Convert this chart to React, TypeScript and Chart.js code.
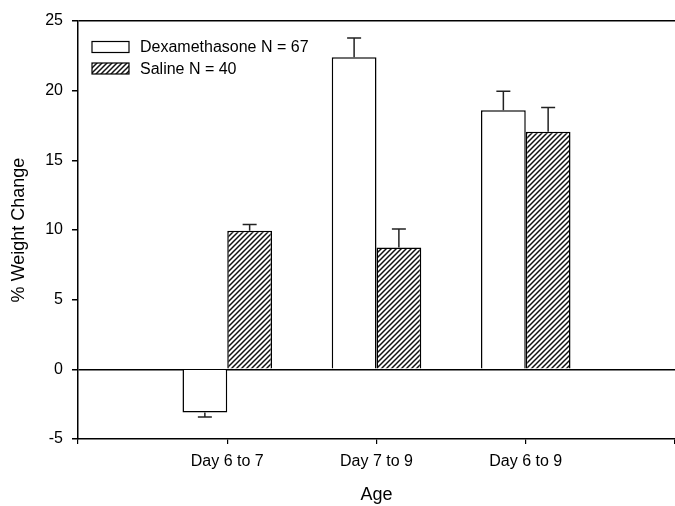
import React, { useEffect, useRef } from 'react';
import { Chart, registerables } from 'chart.js';

Chart.register(...registerables);

// ---- Data ----
const categories = ['', 'Day 6 to 7', 'Day 7 to 9', 'Day 6 to 9', ''];
const dexLabel = 'Dexamethasone N = 67';
const salineLabel = 'Saline N = 40';
const dexValues = [null, -3.1, 22.4, 18.6, null];
const dexErrors = [null, 0.32, 1.38, 1.36, null];
const salineValues = [null, 9.95, 8.75, 17.05, null];
const salineErrors = [null, 0.45, 1.33, 1.75, null];
const yMin = -5;
const yMax = 25;
const yStep = 5;
const yTitle = '% Weight Change';
const xTitle = 'Age';

const FONT = '"Liberation Sans", Arial, Helvetica, sans-serif';

function makeHatch(): CanvasPattern | string {
  const s = 5;
  const c = document.createElement('canvas');
  c.width = s;
  c.height = s;
  const g = c.getContext('2d');
  if (!g) return '#888';
  g.fillStyle = '#fff';
  g.fillRect(0, 0, s, s);
  g.strokeStyle = '#111';
  g.lineWidth = 1.5;
  g.beginPath();
  g.moveTo(0, s);
  g.lineTo(s, 0);
  g.moveTo(-1, 1);
  g.lineTo(1, -1);
  g.moveTo(s - 1, s + 1);
  g.lineTo(s + 1, s - 1);
  g.stroke();
  const p = g.createPattern(c, 'repeat');
  return p || '#888';
}

const errorBarPlugin = {
  id: 'errorBars',
  afterDatasetsDraw(chart: any) {
    const ctx = chart.ctx;
    const yScale = chart.scales.y;
    const errs = [dexErrors, salineErrors];
    chart.data.datasets.forEach((ds: any, di: number) => {
      const meta = chart.getDatasetMeta(di);
      meta.data.forEach((el: any, i: number) => {
        const v = ds.data[i];
        const e = errs[di][i];
        if (v == null || e == null) return;
        const sign = v >= 0 ? 1 : -1;
        const yEnd = yScale.getPixelForValue(v + sign * e);
        const x = el.x;
        ctx.save();
        ctx.strokeStyle = '#222';
        ctx.lineWidth = 1.5;
        ctx.beginPath();
        ctx.moveTo(x, el.y);
        ctx.lineTo(x, yEnd);
        ctx.moveTo(x - 7, yEnd);
        ctx.lineTo(x + 7, yEnd);
        ctx.stroke();
        ctx.restore();
      });
    });
  },
};

const legendPlugin = {
  id: 'customLegend',
  afterDraw(chart: any) {
    const ctx = chart.ctx;
    const items = chart.data.datasets;
    const x0 = 92;
    const rows = [47, 68.5];
    ctx.save();
    items.forEach((ds: any, i: number) => {
      const cy = rows[i];
      ctx.fillStyle = ds.backgroundColor;
      ctx.fillRect(x0, cy - 5.5, 37, 11);
      ctx.strokeStyle = '#000';
      ctx.lineWidth = 1.2;
      ctx.strokeRect(x0, cy - 5.5, 37, 11);
      ctx.fillStyle = '#000';
      ctx.font = `16px ${FONT}`;
      ctx.textBaseline = 'middle';
      ctx.textAlign = 'left';
      ctx.fillText(ds.label, 140, cy + 1);
    });
    ctx.restore();
  },
};

export default function App() {
  const ref = useRef<HTMLCanvasElement | null>(null);

  useEffect(() => {
    if (!ref.current) return;
    const hatch = makeHatch();
    const chart = new Chart(ref.current, {
      type: 'bar',
      data: {
        labels: categories,
        datasets: [
          {
            label: dexLabel,
            data: dexValues as any,
            backgroundColor: '#ffffff',
            borderColor: '#000',
            borderWidth: 1.5,
            borderSkipped: 'start',
            categoryPercentage: 0.6,
            barPercentage: 1.0,
          },
          {
            label: salineLabel,
            data: salineValues as any,
            backgroundColor: hatch as any,
            borderColor: '#000',
            borderWidth: 1.5,
            borderSkipped: 'start',
            categoryPercentage: 0.6,
            barPercentage: 1.0,
          },
        ],
      },
      options: {
        animation: false,
        responsive: false,
        maintainAspectRatio: false,
        layout: { padding: { top: 21, left: 0, right: 0, bottom: 0 } },
        plugins: {
          legend: { display: false },
          tooltip: { enabled: false },
        },
        scales: {
          x: {
            type: 'category',
            offset: false,
            grid: {
              offset: false,
              drawOnChartArea: false,
              drawTicks: true,
              tickLength: 5,
              color: '#000',
              tickColor: '#000',
              lineWidth: 1.2,
            },
            border: { display: true, color: '#000', width: 1.5 },
            ticks: {
              color: '#000',
              font: { family: FONT, size: 16 },
              padding: 8,
              maxRotation: 0,
              autoSkip: false,
            },
            title: {
              display: true,
              text: xTitle,
              color: '#000',
              font: { family: FONT, size: 18 },
              padding: 0,
            },
            afterFit(scale: any) {
              scale.height = 67;
              scale.paddingLeft = 0;
              scale.paddingRight = 0;
            },
          },
          y: {
            min: yMin,
            max: yMax,
            ticks: {
              stepSize: yStep,
              color: '#000',
              font: { family: FONT, size: 16 },
              padding: 9,
            },
            grid: {
              drawTicks: true,
              tickLength: 6,
              color: (c: any) =>
                c.tick && (c.tick.value === 0 || c.tick.value === yMax) ? '#000' : 'rgba(0,0,0,0)',
              tickColor: '#000',
              lineWidth: 1.5,
            },
            border: { display: true, color: '#000', width: 1.5 },
            title: {
              display: true,
              text: yTitle,
              color: '#000',
              font: { family: FONT, size: 18 },
              padding: { top: 8, bottom: 0 },
            },
            afterFit(scale: any) {
              scale.width = 78;
            },
          },
        },
      },
      plugins: [errorBarPlugin, legendPlugin],
    });
    return () => chart.destroy();
  }, []);

  return (
    <div style={{ position: 'absolute', left: 0, top: 0, width: 675, height: 506, background: '#fff' }}>
      <canvas ref={ref} width={675} height={506} style={{ display: 'block' }} />
    </div>
  );
}
